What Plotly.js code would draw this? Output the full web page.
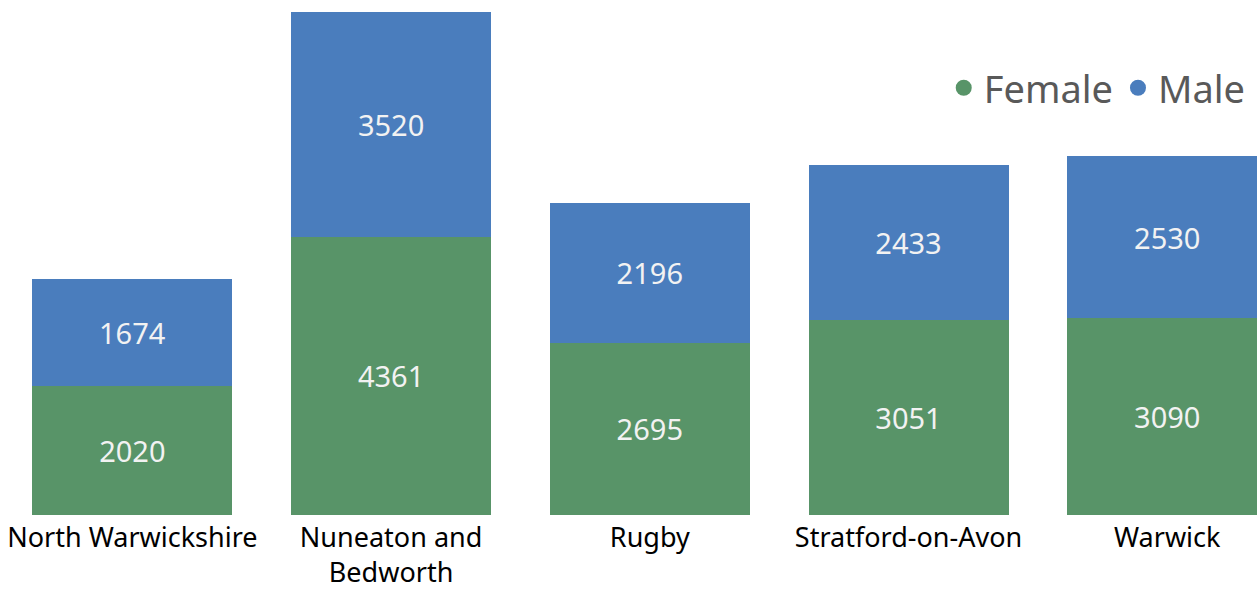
<!DOCTYPE html>
<html>
<head>
<meta charset="utf-8">
<script src="https://cdn.plot.ly/plotly-3.0.1.min.js"></script>
<style>html,body{margin:0;padding:0;background:#fff;}#chart{width:1257px;height:590px;}</style>
</head>
<body>
<div id="chart"></div>
<script>
const categories = ["North Warwickshire", "Nuneaton and<br>Bedworth", "Rugby", "Stratford-on-Avon", "Warwick"];
const female = [2020, 4361, 2695, 3051, 3090];
const male = [1674, 3520, 2196, 2433, 2530];
const seriesNames = ["Female", "Male"];
const colors = ["#589468", "#4a7dbd"];

const font = "Noto Sans, Open Sans, sans-serif";
const labelFont = {family: font, size: 29, color: "#f2f2f2"};

const traces = [
  {type: "bar", name: seriesNames[0], x: categories, y: female, marker: {color: colors[0]},
   text: female.map(String), textposition: "inside", insidetextanchor: "middle",
   textfont: labelFont, showlegend: false, hoverinfo: "skip"},
  {type: "bar", name: seriesNames[1], x: categories, y: male, marker: {color: colors[1]},
   text: male.map(String), textposition: "inside", insidetextanchor: "middle",
   textfont: labelFont, showlegend: false, hoverinfo: "skip"},
  {type: "scatter", mode: "markers", name: seriesNames[0], x: [null], y: [null],
   marker: {color: colors[0], size: 20, symbol: "circle"}, showlegend: true},
  {type: "scatter", mode: "markers", name: seriesNames[1], x: [null], y: [null],
   marker: {color: colors[1], size: 20, symbol: "circle"}, showlegend: true}
];

const layout = {
  width: 1257, height: 590,
  margin: {l: 3, r: 0, t: 0, b: 75},
  paper_bgcolor: "#ffffff", plot_bgcolor: "#ffffff",
  barmode: "stack", bargap: 0.227,
  xaxis: {type: "category", range: [-0.5, 4.347], showgrid: false, zeroline: false,
          showline: false, ticks: "", ticklabelstandoff: 4,
          tickfont: {family: font, size: 27, color: "#000000"},
          fixedrange: true},
  yaxis: {visible: false, range: [0, 8069], fixedrange: true},
  showlegend: true,
  legend: {orientation: "h", x: 0.995, xanchor: "right", y: 0.829, yanchor: "middle",
           font: {family: font, size: 38, color: "#595959"}, bgcolor: "rgba(0,0,0,0)",
           itemsizing: "trace", traceorder: "normal"},
  uniformtext: {mode: false}
};

Plotly.newPlot("chart", traces, layout, {displayModeBar: false, staticPlot: true});
</script>
</body>
</html>
